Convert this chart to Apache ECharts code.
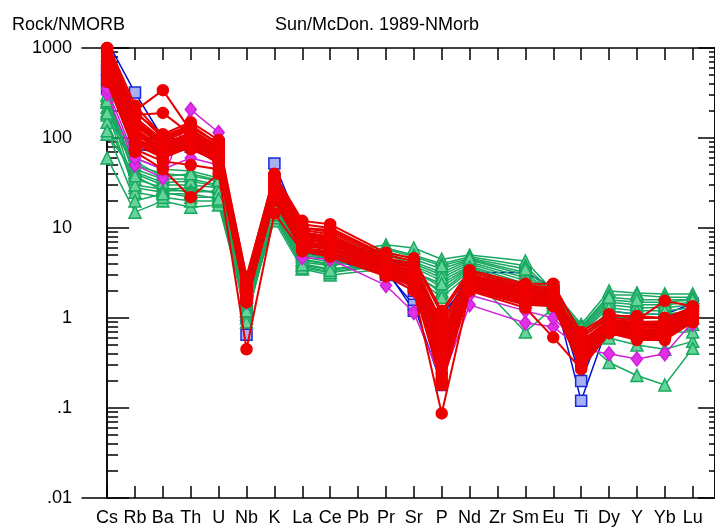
<!DOCTYPE html>
<html>
<head>
<meta charset="utf-8">
<script src="https://cdn.jsdelivr.net/npm/echarts@6/dist/echarts.min.js"></script>
<style>
html, body { margin: 0; padding: 0; background: #fff; }
#chart { width: 715px; height: 527px; }
</style>
</head>
<body>
<div id="chart"></div>
<script>
// 元素顺序 (Pb, Zr 没有数据)
var elements = ['Cs', 'Rb', 'Ba', 'Th', 'U', 'Nb', 'K', 'La', 'Ce', 'Pb', 'Pr', 'Sr', 'P', 'Nd', 'Zr', 'Sm', 'Eu', 'Ti', 'Dy', 'Y', 'Yb', 'Lu'];
var yTicks = [0.01, 0.1, 1, 10, 100, 1000];
var yTickLabels = ['.01', '.1', '1', '10', '100', '1000'];

// 蓝色方块
var blueRows = [
	[1200, 320, 100, 95, 85, 0.65, 52, 9, 8, null, 4.5, 3.5, 0.9, 3.2, null, 3.2, 2.2, 0.2, 1.2, 1.1, 1.1, 1.45],
	[550, 90, 80, 85, 70, 1.0, 30, 6, 5, null, 3.2, 1.4, 0.18, 2.8, null, 2.0, 2.0, 0.12, 0.9, 0.85, 0.9, 1.3],
	[450, 75, 70, 80, 65, 1.2, 25, 5.5, 4.5, null, 3.0, 2.0, 0.5, 2.6, null, 1.8, 1.7, 0.35, 1.0, 1.0, 1.0, 1.2],
	[350, 110, 90, 90, 75, 1.5, 35, 7, 6, null, 3.5, 1.2, 1.1, 2.5, null, 1.6, 1.6, 0.4, 0.8, 0.8, 0.8, 1.1]
];
// 绿色三角
var greenRows = [
	[275, 60, 45, 43, 36, 2.0, 25, 6.0, 5.2, null, 6.5, 6.0, 4.5, 5.0, null, 4.3, 2.0, 0.85, 2.0, 1.9, 1.85, 1.85],
	[220, 50, 40, 38, 33, 1.8, 22, 5.5, 4.8, null, 6.0, 5.0, 4.0, 4.8, null, 3.8, 1.9, 0.8, 1.8, 1.8, 1.7, 1.7],
	[180, 45, 35, 35, 30, 1.6, 20, 5.0, 4.5, null, 5.5, 4.5, 3.5, 4.5, null, 3.2, 1.8, 0.75, 1.6, 1.5, 1.5, 1.6],
	[110, 40, 30, 30, 28, 1.5, 18, 4.5, 4.0, null, 5.0, 4.0, 3.0, 4.2, null, 2.8, 1.7, 0.7, 1.4, 1.3, 1.3, 1.4],
	[60, 15, 20, 17, 18, 1.2, 12, 3.5, 3.0, null, 3.5, 3.0, 2.0, 3.5, null, 1.8, 1.5, 0.65, 1.0, 1.0, 1.0, 1.0],
	[300, 35, 28, 25, 26, 1.4, 16, 4.2, 3.8, null, 4.6, 3.6, 2.6, 3.8, null, 2.4, 1.6, 0.6, 1.2, 1.1, 1.1, 1.2],
	[250, 28, 25, 22, 22, 1.3, 15, 4.0, 3.5, null, 4.2, 3.3, 2.2, 3.6, null, 2.0, 1.5, 0.55, 0.9, 0.85, 0.8, 0.85],
	[200, 25, 22, 20, 20, 1.1, 13, 3.8, 3.2, null, 4.0, 3.1, 1.9, 3.3, null, 1.5, 1.4, 0.5, 0.6, 0.5, 0.45, 0.55],
	[150, 30, 27, 28, 24, 1.0, 14, 3.6, 3.2, null, 3.8, 2.9, 1.7, 3.1, null, 0.7, 1.3, 0.62, 0.32, 0.23, 0.18, 0.46],
	[300, 42, 32, 33, 29, 1.7, 19, 4.8, 4.2, null, 5.2, 4.2, 3.2, 4.4, null, 3.0, 1.75, 0.72, 1.5, 1.4, 1.4, 1.5],
	[260, 38, 26, 26, 25, 0.9, 17, 4.4, 3.9, null, 4.5, 3.8, 2.8, 4.0, null, 2.6, 1.65, 0.68, 1.3, 1.2, 1.2, 1.3],
	[190, 55, 37, 40, 34, 1.9, 23, 5.2, 4.6, null, 5.8, 4.8, 3.8, 4.6, null, 3.5, 1.85, 0.78, 1.7, 1.6, 1.6, 1.6],
	[120, 20, 24, 24, 21, 1.2, 14, 3.9, 3.4, null, 4.0, 3.2, 2.4, 3.7, null, 2.2, 1.55, 0.58, 0.75, 0.7, 0.7, 0.7]
];
// 紫色菱形
var magentaRows = [
	[310, 50, 36, 207, 115, 1.5, 30, 4.7, 4.5, null, 2.3, 1.15, 0.2, 1.4, null, 0.88, 0.8, 0.45, 0.4, 0.35, 0.4, 0.9],
	[350, 60, 45, 60, 50, 1.8, 28, 5.5, 5, null, 3.0, 2.0, 0.3, 1.8, null, 1.2, 1.0, 0.5, 0.7, 0.7, 0.7, 0.85]
];
// 红色圆点
var redRows = [
	[1150, 230, 105, 140, 85, 2.9, 38, 11, 10, null, 5.0, 4.3, 1.1, 3.2, null, 2.3, 2.2, 0.7, 1.1, 1.0, 1.0, 1.3],
	[1100, 200, 340, 120, 80, 2.6, 35, 10, 9, null, 4.6, 4.0, 0.9, 3.0, null, 2.2, 2.0, 0.6, 1.0, 0.95, 1.55, 1.35],
	[1050, 180, 190, 110, 75, 2.5, 33, 9.5, 8.5, null, 4.4, 3.8, 0.8, 2.9, null, 2.1, 1.9, 0.55, 0.95, 0.9, 0.9, 1.2],
	[1000, 170, 95, 130, 88, 2.4, 32, 9, 8, null, 4.2, 3.6, 0.7, 2.8, null, 2.0, 1.9, 0.5, 0.9, 0.85, 0.85, 1.15],
	[950, 160, 90, 125, 80, 2.3, 30, 8.5, 7.5, null, 4.0, 3.4, 0.6, 2.7, null, 1.9, 1.8, 0.48, 0.88, 0.82, 0.82, 1.1],
	[900, 150, 85, 115, 75, 2.2, 29, 8, 7.2, null, 3.9, 3.2, 0.5, 2.6, null, 1.85, 1.75, 0.45, 0.85, 0.8, 0.8, 1.05],
	[850, 140, 80, 105, 70, 2.1, 28, 7.6, 7, null, 3.8, 3.0, 0.45, 2.5, null, 1.8, 1.7, 0.42, 0.82, 0.78, 0.78, 1.0],
	[800, 130, 75, 100, 68, 2.0, 27, 7.3, 6.8, null, 3.7, 2.9, 0.4, 2.45, null, 1.75, 1.65, 0.4, 0.8, 0.75, 0.75, 1.0],
	[750, 120, 72, 95, 65, 1.9, 26, 7, 6.5, null, 3.6, 2.8, 0.35, 2.4, null, 1.7, 1.6, 0.38, 0.78, 0.72, 0.72, 0.98],
	[700, 110, 70, 90, 62, 1.8, 25, 6.8, 6.2, null, 3.5, 2.7, 0.3, 2.35, null, 1.65, 1.55, 0.36, 0.76, 0.7, 0.7, 0.95],
	[650, 100, 68, 88, 60, 1.7, 24, 6.5, 6, null, 3.4, 2.6, 0.28, 2.3, null, 1.6, 1.5, 0.35, 0.74, 0.68, 0.68, 0.95],
	[600, 95, 65, 85, 58, 1.6, 23, 6.3, 5.8, null, 3.3, 2.5, 0.25, 2.25, null, 1.55, 1.5, 0.33, 0.72, 0.66, 0.66, 0.92],
	[550, 90, 62, 82, 55, 1.6, 22, 6, 5.5, null, 3.2, 2.4, 0.22, 2.2, null, 1.5, 1.45, 0.32, 0.7, 0.64, 0.64, 0.9],
	[500, 85, 60, 80, 52, 1.5, 21, 5.8, 5.3, null, 3.1, 2.3, 0.2, 2.1, null, 1.45, 1.4, 0.3, 0.7, 0.62, 0.62, 0.9],
	[450, 75, 55, 50, 45, 1.5, 20, 5.6, 5, null, 3.0, 2.2, 0.18, 2.05, null, 1.4, 1.35, 0.28, 0.68, 0.6, 0.6, 0.9],
	[420, 70, 45, 22, 40, 0.45, 14.5, 5.5, 4.8, null, 2.9, 2.0, 0.087, 2.0, null, 1.3, 0.61, 0.27, 0.68, 0.57, 0.57, 0.9],
	[1000, 190, 110, 150, 95, 2.8, 40, 12, 11, null, 5.3, 4.6, 1.2, 3.4, null, 2.4, 2.4, 0.65, 1.05, 1.05, 1.0, 1.3],
	[900, 200, 100, 135, 85, 2.7, 36, 10, 9.5, null, 4.8, 3.5, 0.65, 3.0, null, 2.2, 2.1, 0.52, 0.95, 0.9, 0.92, 1.25],
	[700, 150, 88, 110, 78, 2.4, 30, 8.8, 8, null, 4.2, 3.1, 0.55, 2.8, null, 2.0, 1.85, 0.5, 0.92, 0.86, 0.86, 1.15],
	[600, 120, 78, 100, 70, 2.2, 28, 8.2, 7.4, null, 3.9, 2.9, 0.42, 2.6, null, 1.9, 1.75, 0.46, 0.88, 0.84, 0.84, 1.1],
	[800, 110, 75, 95, 66, 2.0, 26, 7.5, 6.9, null, 3.7, 2.7, 0.32, 2.5, null, 1.8, 1.7, 0.43, 0.84, 0.8, 0.8, 1.05],
	[1100, 140, 85, 105, 72, 2.3, 31, 8.6, 7.8, null, 4.1, 3.3, 0.38, 2.7, null, 1.9, 1.8, 0.47, 0.86, 0.82, 0.82, 1.1],
	[650, 100, 70, 75, 55, 1.7, 22, 6.6, 6, null, 3.3, 2.5, 0.24, 2.3, null, 1.6, 1.5, 0.34, 0.76, 0.7, 0.7, 0.95]
];

var FONT = '"Liberation Sans", Arial, sans-serif';
var elIndex = elements.map(function(e, i) { return i; });

// 次刻度 2..9
var minorTicks = [];
yTicks.slice(0, -1).forEach(function(d) {
	for (var k = 2; k <= 9; k++) minorTicks.push(k * d);
});

function toPoints(row) {
	var pts = [];
	row.forEach(function(v, i) {
		if (v != null) pts.push([i, v]);
	});
	return pts;
}

function makeSeries(rows, style) {
	return rows.map(function(row) {
		return {
			type: 'line',
			data: toPoints(row),
			connectNulls: true,
			symbol: style.symbol,
			symbolSize: style.size,
			lineStyle: { color: style.line, width: style.width },
			itemStyle: { color: style.fill, borderColor: style.border, borderWidth: 1.5 },
			emphasis: { disabled: true },
			z: style.z
		};
	});
}

var series = [].concat(
	makeSeries(blueRows, { symbol: 'rect', size: 11, line: '#0010d0', fill: '#a8b0f4', border: '#1a2ad8', width: 1.5, z: 2 }),
	makeSeries(greenRows, { symbol: 'triangle', size: 12, line: '#18a860', fill: '#64d49a', border: '#18a860', width: 1.5, z: 3 }),
	makeSeries(magentaRows, { symbol: 'diamond', size: [11, 14], line: '#d020d8', fill: '#e030e8', border: '#d020d8', width: 1.5, z: 4 }),
	makeSeries(redRows, { symbol: 'circle', size: 11, line: '#e80000', fill: '#ee0000', border: '#ee0000', width: 2, z: 5 })
);

var axisLine = { show: true, lineStyle: { color: '#000', width: 1.5 } };

function yAxisDef(pos, values, len, withLabels) {
	return {
		type: 'log',
		logBase: 10,
		min: 0.01,
		max: 1000,
		position: pos,
		axisLine: axisLine,
		axisTick: { show: true, inside: true, length: len, customValues: values, lineStyle: { color: '#000', width: 1.5 } },
		axisLabel: withLabels ? {
			show: true,
			customValues: yTicks,
			margin: 10,
			color: '#000',
			fontSize: 18,
			fontFamily: FONT,
			formatter: function(v) {
				return yTickLabels[Math.round(Math.log10(v)) + 2];
			}
		} : { show: false },
		splitLine: { show: false }
	};
}

function xAxisDef(pos, withLabels) {
	return {
		type: 'value',
		min: -0.9,
		max: 21.8,
		position: pos,
		axisLine: axisLine,
		axisTick: { show: true, inside: true, length: 12, customValues: elIndex, lineStyle: { color: '#000', width: 1.5 } },
		axisLabel: withLabels ? {
			show: true,
			customValues: elIndex,
			margin: 11,
			color: '#000',
			fontSize: 18,
			fontFamily: FONT,
			formatter: function(v) { return elements[Math.round(v)]; }
		} : { show: false },
		splitLine: { show: false }
	};
}

var chart = echarts.init(document.getElementById('chart'));
var option = {
	animation: false,
	backgroundColor: '#fff',
	title: [
		{ text: 'Rock/NMORB', left: 7, top: 11, textStyle: { fontSize: 18, fontWeight: 'normal', fontFamily: FONT, color: '#000' } },
		{ text: 'Sun/McDon. 1989-NMorb', left: 270, top: 11, textStyle: { fontSize: 18, fontWeight: 'normal', fontFamily: FONT, color: '#000' } }
	],
	grid: { left: 82, right: -2, top: 48, bottom: 29, containLabel: false },
	xAxis: [xAxisDef('bottom', true), xAxisDef('top', false)],
	yAxis: [
		yAxisDef('left', yTicks, 22, true),
		yAxisDef('left', minorTicks, 11, false),
		yAxisDef('right', yTicks, 17, false),
		yAxisDef('right', minorTicks, 6, false)
	],
	series: series
};
chart.setOption(option);
</script>
</body>
</html>
